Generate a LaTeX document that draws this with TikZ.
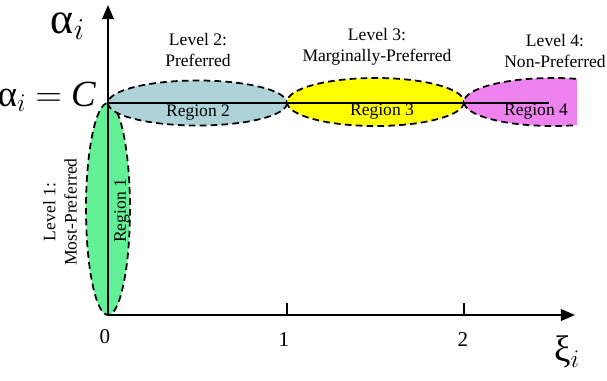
\documentclass[tikz,border=0pt]{standalone}
\usepackage{fontspec}
\setmainfont{Liberation Serif}
\usetikzlibrary{arrows.meta}

\definecolor{regionone}{RGB}{100,240,150}
\definecolor{regiontwo}{RGB}{173,211,217}
\definecolor{regionthree}{RGB}{255,255,0}
\definecolor{regionfour}{RGB}{238,130,238}

\begin{document}
\begin{tikzpicture}[x=0.02cm, y=-0.02cm,
      every node/.style={font=\normalsize, inner sep=1pt},
      region/.style={draw, line width=1pt, dash pattern=on 3.8pt off 2.4pt},
      axis/.style={-{Triangle[length=8pt,width=6.5pt]}, line width=1.2pt},
      level/.style={align=center},
      tick/.style={font=\fontsize{12}{14}\selectfont},
      big/.style={font=\fontsize{21}{24}\selectfont},
    ]
    \useasboundingbox (0,0) rectangle (607,381);

    % regions
    \filldraw[region, fill=regionone]   (108,209) ellipse [x radius=22, y radius=106];
    \filldraw[region, fill=regiontwo]   (197.5,103) ellipse [x radius=89.5, y radius=22.5];
    \filldraw[region, fill=regionthree] (375.5,102) ellipse [x radius=88.5, y radius=24];
    \begin{scope}
      \clip (464,60) rectangle (577,150);
      \filldraw[region, fill=regionfour] (553,102) ellipse [x radius=89, y radius=24];
    \end{scope}

    % axes
    \coordinate (O)    at (108,315);
    \coordinate (xend) at (575,315);
    \coordinate (yend) at (108,5);
    \coordinate (C)    at (108,103);
    \coordinate (Cend) at (549,103);
    \draw[axis] (O) -- (xend);
    \draw[axis] (O) -- (yend);
    \draw[line width=1pt] (C) -- (Cend);
    \foreach \t in {287,464}
      \draw[line width=1pt] (\t,315) -- (\t,303);

    % tick labels
    \node[tick] (zero) at (105,337) {0};
    \node[tick] (one)  at (284,340) {1};
    \node[tick] (two)  at (463,340) {2};

    % axis labels
    \node[big, font=\fontsize{25}{28}\selectfont] (alpha) at (68,26) {α$_{i}$};
    \node[big] (alphaC) at (47,97)  {α$_{i}$ $=$ \textit{C}};
    \node[big] (xi)     at (567,352) {ξ$_{i}$};

    % region labels
    \node[rotate=90] (rone)   at (122,211) {Region 1};
    \node (rtwo)   at (198,113) {Region 2};
    \node (rthree) at (382,112) {Region 3};
    \node (rfour)  at (536,112) {Region 4};

    % level labels
    \node[level, rotate=90] (lone) at (60,212) {Level 1:\\Most-Preferred};
    \node[level] (ltwo)   at (198,50) {Level 2:\\Preferred};
    \node[level] (lthree) at (377,47) {Level 3:\\Marginally-Preferred};
    \node[level] (lfour)  at (555,51) {Level 4:\\Non-Preferred};
  \end{tikzpicture}
\end{document}
